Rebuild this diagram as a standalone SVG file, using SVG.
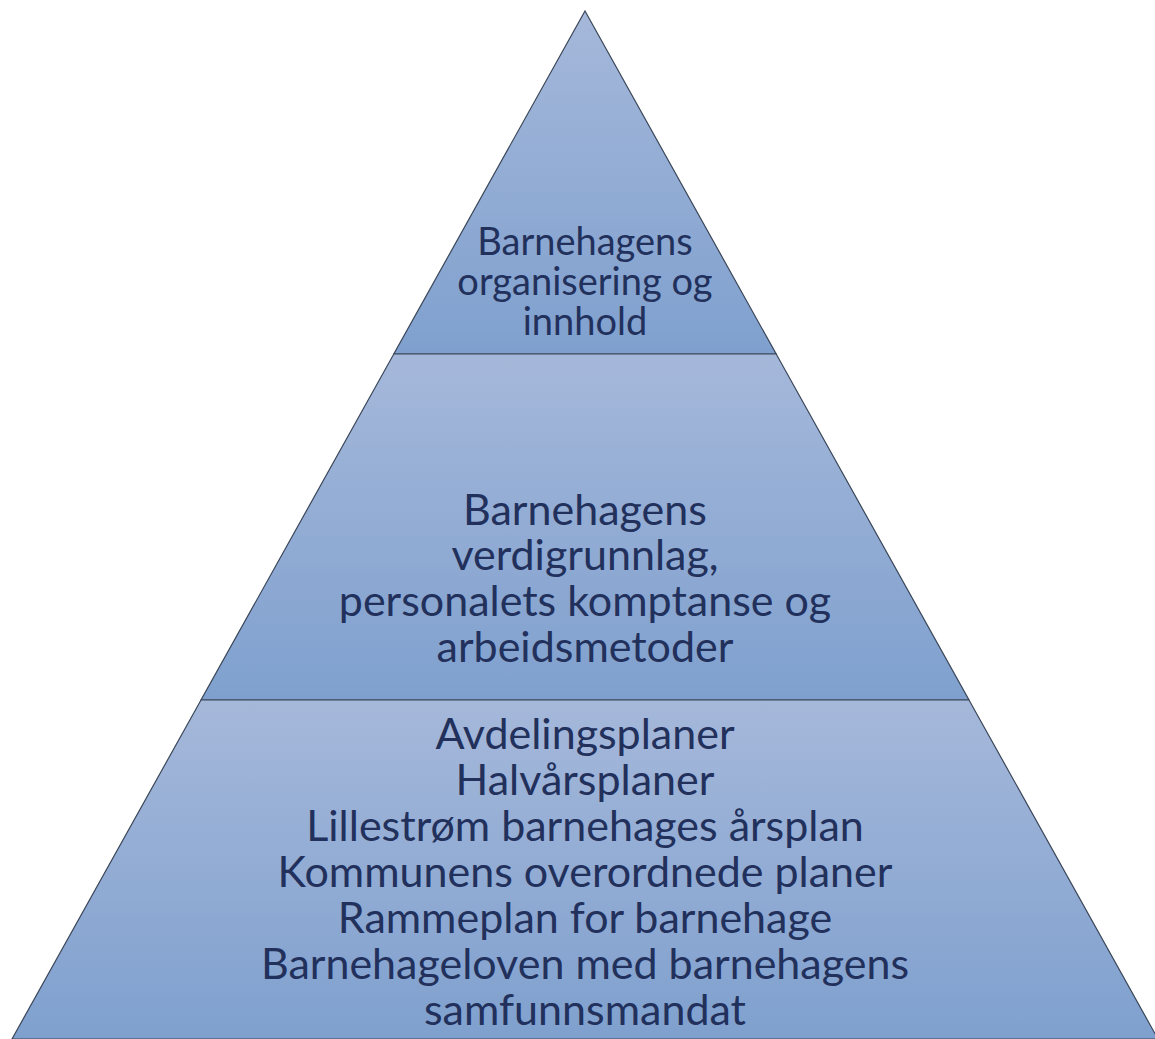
<svg xmlns="http://www.w3.org/2000/svg" width="1155" height="1039" viewBox="0 0 1155 1039">
<defs>
<linearGradient id="g" x1="0" y1="0" x2="0" y2="1">
<stop offset="0" stop-color="#A5B8DA"/>
<stop offset="1" stop-color="#7FA0CE"/>
</linearGradient>
<style>
.seg{fill:url(#g);stroke:#3A4658;stroke-width:1.2;stroke-linejoin:miter}
.t{font-family:Lato,"Liberation Sans",sans-serif;fill:#22305C;text-anchor:middle}
</style>
</defs>
<rect width="1155" height="1039" fill="#FFFFFF"/>
<g id="top">
<polygon class="seg" points="585,11 776.2,354 393.8,354"/>
<text class="t" font-size="38" x="585"><tspan x="585" y="255">Barnehagens</tspan><tspan x="585" y="295">organisering og</tspan><tspan x="585" y="335">innhold</tspan></text>
</g>
<g id="middle">
<polygon class="seg" points="393.8,354 776.2,354 969,700 201,700"/>
<text class="t" font-size="43" x="585"><tspan x="585" y="525">Barnehagens</tspan><tspan x="585" y="570">verdigrunnlag,</tspan><tspan x="585" y="616">personalets komptanse og</tspan><tspan x="585" y="662">arbeidsmetoder</tspan></text>
</g>
<g id="bottom">
<polygon class="seg" points="201,700 969,700 1158,1039 12,1039"/>
<text class="t" font-size="43" x="585"><tspan x="585" y="749">Avdelingsplaner</tspan><tspan x="585" y="795">Halvårsplaner</tspan><tspan x="585" y="841">Lillestrøm barnehages årsplan</tspan><tspan x="585" y="887">Kommunens overordnede planer</tspan><tspan x="585" y="933">Rammeplan for barnehage</tspan><tspan x="585" y="979">Barnehageloven med barnehagens</tspan><tspan x="585" y="1025">samfunnsmandat</tspan></text>
</g>
</svg>
